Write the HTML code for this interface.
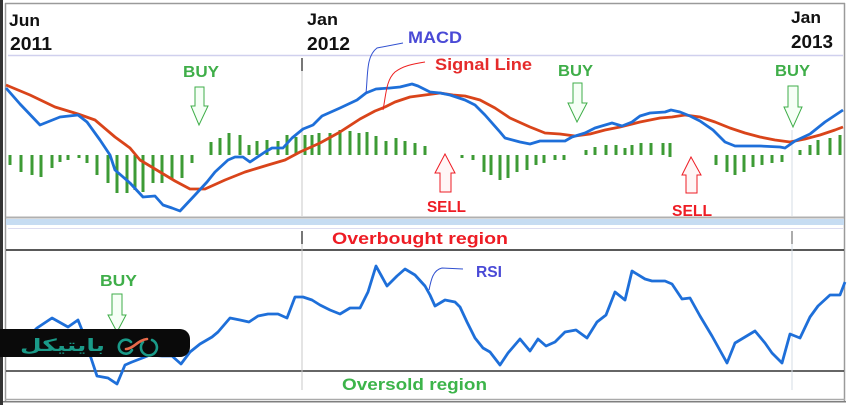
<!DOCTYPE html>
<html><head><meta charset="utf-8"><style>
html,body{margin:0;padding:0;background:#fff;}
svg{display:block;}
text{font-family:"Liberation Sans",sans-serif;font-weight:bold;}
</style></head><body>
<svg width="850" height="405" viewBox="0 0 850 405" xmlns="http://www.w3.org/2000/svg">
<rect width="850" height="405" fill="#fff"/>
<!-- frame -->
<rect x="0" y="0" width="3" height="405" fill="#333"/>
<line x1="5.5" y1="3" x2="5.5" y2="401" stroke="#9a9a9a" stroke-width="1.5"/>
<line x1="5" y1="3.5" x2="845" y2="3.5" stroke="#9a9a9a" stroke-width="1.5"/>
<line x1="844.5" y1="3" x2="844.5" y2="401" stroke="#9a9a9a" stroke-width="1.5"/>
<line x1="5" y1="399.5" x2="845" y2="399.5" stroke="#aaa" stroke-width="1.5"/>
<line x1="3" y1="401.8" x2="846" y2="401.8" stroke="#555" stroke-width="1.2"/>
<!-- top separator -->
<line x1="8" y1="55.5" x2="843" y2="55.5" stroke="#d0d0ee" stroke-width="1.5"/>
<!-- panel separator -->
<line x1="6" y1="217.5" x2="844" y2="217.5" stroke="#b0b0b0" stroke-width="2"/>
<rect x="6" y="219" width="838" height="6" fill="#c6dcf2"/>
<line x1="8" y1="228.5" x2="843" y2="228.5" stroke="#dcdcf0" stroke-width="1"/>
<line x1="6" y1="250" x2="844" y2="250" stroke="#222" stroke-width="1.6"/>
<line x1="6" y1="371" x2="844" y2="371" stroke="#333" stroke-width="1.4"/>
<!-- vertical grid -->
<line x1="302" y1="70" x2="302" y2="216" stroke="#c8c8c8" stroke-width="1"/>
<line x1="302" y1="58" x2="302" y2="71" stroke="#555" stroke-width="1.6"/>
<line x1="302" y1="243" x2="302" y2="390" stroke="#c8c8c8" stroke-width="1"/>
<line x1="302" y1="231" x2="302" y2="244" stroke="#555" stroke-width="1.6"/>
<line x1="792" y1="130" x2="792" y2="216" stroke="#d4dce4" stroke-width="1"/>
<line x1="792" y1="243" x2="792" y2="390" stroke="#d4dce4" stroke-width="1"/>
<line x1="792" y1="231" x2="792" y2="244" stroke="#888" stroke-width="1.4"/>
<!-- date labels -->
<text x="9" y="26" font-size="17" fill="#111" textLength="31" lengthAdjust="spacingAndGlyphs">Jun</text>
<text x="10" y="50" font-size="18" fill="#111" textLength="42" lengthAdjust="spacingAndGlyphs">2011</text>
<text x="307" y="25" font-size="17" fill="#111" textLength="31" lengthAdjust="spacingAndGlyphs">Jan</text>
<text x="307" y="50" font-size="18" fill="#111" textLength="43" lengthAdjust="spacingAndGlyphs">2012</text>
<text x="791" y="23" font-size="17" fill="#111" textLength="30" lengthAdjust="spacingAndGlyphs">Jan</text>
<text x="791" y="48" font-size="18" fill="#111" textLength="42" lengthAdjust="spacingAndGlyphs">2013</text>
<!-- histogram -->
<g fill="#3d9b35">
<rect x="8.5" y="155" width="3" height="10"/><rect x="19.5" y="155" width="3" height="17"/><rect x="30.5" y="155" width="3" height="20"/><rect x="39.5" y="155" width="3" height="22"/><rect x="50.5" y="155" width="3" height="13"/><rect x="58.5" y="155" width="3" height="7"/><rect x="66.5" y="155" width="3" height="5"/><rect x="77.5" y="155" width="3" height="3"/><rect x="85.5" y="155" width="3" height="8"/><rect x="95.5" y="155" width="3" height="20"/><rect x="106.5" y="155" width="3" height="28"/><rect x="115.5" y="155" width="3" height="38"/><rect x="125.5" y="155" width="3" height="38"/><rect x="133.5" y="155" width="3" height="35"/><rect x="141.5" y="155" width="3" height="37"/><rect x="151.5" y="155" width="3" height="28"/><rect x="160.5" y="155" width="3" height="28"/><rect x="170.5" y="155" width="3" height="25"/><rect x="180.5" y="155" width="3" height="23"/><rect x="190.5" y="155" width="3" height="8"/>
<rect x="209.5" y="142" width="3" height="13"/><rect x="218.5" y="138" width="3" height="17"/><rect x="227.5" y="133" width="3" height="22"/><rect x="238.5" y="135" width="3" height="20"/><rect x="247.5" y="145" width="3" height="10"/><rect x="255.5" y="141" width="3" height="14"/><rect x="265.5" y="140" width="3" height="15"/><rect x="276.5" y="141" width="3" height="14"/><rect x="285.5" y="135" width="3" height="20"/><rect x="294.5" y="137" width="3" height="18"/><rect x="303.5" y="135" width="3" height="20"/><rect x="310.5" y="135" width="3" height="20"/><rect x="317.5" y="133" width="3" height="22"/><rect x="328.5" y="133" width="3" height="22"/><rect x="338.5" y="130" width="3" height="25"/><rect x="348.5" y="131" width="3" height="24"/><rect x="357.5" y="133" width="3" height="22"/><rect x="365.5" y="132" width="3" height="23"/><rect x="374.5" y="136" width="3" height="19"/><rect x="384.5" y="141" width="3" height="14"/><rect x="394.5" y="138" width="3" height="17"/><rect x="403.5" y="141" width="3" height="14"/><rect x="413.5" y="143" width="3" height="12"/><rect x="423.5" y="146" width="3" height="9"/>
<rect x="460.5" y="155" width="3" height="3"/><rect x="471.5" y="155" width="3" height="5"/><rect x="482.5" y="155" width="3" height="17"/><rect x="489.5" y="155" width="3" height="20"/><rect x="498.5" y="155" width="3" height="25"/><rect x="506.5" y="155" width="3" height="23"/><rect x="515.5" y="155" width="3" height="17"/><rect x="525.5" y="155" width="3" height="15"/><rect x="534.5" y="155" width="3" height="10"/><rect x="542.5" y="155" width="3" height="8"/><rect x="553.5" y="155" width="3" height="5"/><rect x="562.5" y="155" width="3" height="5"/>
<rect x="584.5" y="150" width="3" height="5"/><rect x="593.5" y="147" width="3" height="8"/><rect x="604.5" y="145" width="3" height="10"/><rect x="614.5" y="145" width="3" height="10"/><rect x="623.5" y="148" width="3" height="7"/><rect x="630.5" y="145" width="3" height="10"/><rect x="639.5" y="143" width="3" height="12"/><rect x="649.5" y="143" width="3" height="12"/><rect x="661.5" y="143" width="3" height="12"/><rect x="668.5" y="143" width="3" height="14"/>
<rect x="714.5" y="155" width="3" height="10"/><rect x="725.5" y="155" width="3" height="17"/><rect x="733.5" y="155" width="3" height="20"/><rect x="742.5" y="155" width="3" height="17"/><rect x="751.5" y="155" width="3" height="12"/><rect x="760.5" y="155" width="3" height="10"/><rect x="770.5" y="155" width="3" height="8"/><rect x="780.5" y="155" width="3" height="7"/>
<rect x="798.5" y="150" width="3" height="5"/><rect x="808.5" y="145" width="3" height="10"/><rect x="816.5" y="140" width="3" height="15"/><rect x="828.5" y="138" width="3" height="17"/><rect x="838.5" y="135" width="3" height="20"/>
</g>
<!-- signal line -->
<polyline fill="none" stroke="#d9441a" stroke-width="2.8" stroke-linejoin="round" points="6,85 30,95 55,107 78,114 95,120 115,137 130,148 140,160 160,172 175,181 190,189 205,189 225,180 245,172 268,165 285,160 300,152 320,143 340,132 360,119 375,111 385,107 395,102 410,97 425,95 440,93 453,95 465,96 480,100 495,108 510,118 530,127 545,133 560,134 575,136 590,134 605,130 620,127 640,122 660,118 672,117 685,115 700,117 715,122 730,128 745,133 760,137 775,140 790,142 805,139 820,135 835,130 843,127"/>
<!-- MACD line -->
<polyline fill="none" stroke="#1e6fd9" stroke-width="2.8" stroke-linejoin="round" points="6,88 20,104 40,125 60,117 78,115 87,122 100,140 110,155 115,170 130,183 143,197 155,196 163,205 172,208 180,211 195,195 207,182 215,172 228,160 235,157 243,157 250,162 265,152 272,148 283,148 292,138 303,129 313,125 322,116 340,108 357,100 366,93 376,89 390,88 400,87 412,84 418,86 430,92 440,93 450,95 465,100 475,105 485,115 500,132 505,138 520,142 530,144 540,141 565,141 572,137 585,133 595,128 612,123 622,126 632,122 640,116 650,113 665,112 671,110 680,112 690,116 700,121 713,130 725,142 735,146 760,146 780,147 785,148 795,141 810,134 825,122 843,110"/>
<!-- leader lines -->
<path d="M366,93 C368,75 366,56 377,48 L403,43" fill="none" stroke="#3050d0" stroke-width="1"/>
<path d="M383,110 C386,95 386,80 395,72 C403,66 412,64 425,62" fill="none" stroke="#ee2020" stroke-width="1"/>
<text x="408" y="43" font-size="17" fill="#4a4ad6" textLength="54" lengthAdjust="spacingAndGlyphs">MACD</text>
<text x="435" y="70" font-size="17" fill="#e52b2b" textLength="97" lengthAdjust="spacingAndGlyphs">Signal Line</text>
<!-- BUY/SELL annotations -->
<g font-size="16" fill="#3fae49">
<text x="183" y="77" textLength="36" lengthAdjust="spacingAndGlyphs">BUY</text>
<text x="558" y="76" textLength="35" lengthAdjust="spacingAndGlyphs">BUY</text>
<text x="775" y="76" textLength="35" lengthAdjust="spacingAndGlyphs">BUY</text>
<text x="100" y="286" textLength="37" lengthAdjust="spacingAndGlyphs">BUY</text>
</g>
<g font-size="16" fill="#ee1c24">
<text x="427" y="212" textLength="39" lengthAdjust="spacingAndGlyphs">SELL</text>
<text x="672" y="216" textLength="40" lengthAdjust="spacingAndGlyphs">SELL</text>
</g>
<g fill="#f6fff6" stroke="#3fae49" stroke-width="1">
<polygon points="195,87 204,87 204,106 208,106 199,125 191,106 195,106"/>
<polygon points="573,83 582,83 582,103 587,103 577,122 568,103 573,103"/>
<polygon points="788,86 798,86 798,107 802,107 793,127 784,107 788,107"/>
<polygon points="112,294 122,294 122,315 126,315 117,332 108,315 112,315"/>
</g>
<g fill="#fff6f6" stroke="#ee1c24" stroke-width="1">
<polygon points="445,154 455,173 451,173 451,192 440,192 440,173 435,173"/>
<polygon points="691,157 701,175 697,175 697,193 686,193 686,175 682,175"/>
</g>
<!-- region labels -->
<text x="332" y="244" font-size="17" fill="#ee1c24" textLength="176" lengthAdjust="spacingAndGlyphs">Overbought region</text>
<text x="342" y="390" font-size="17" fill="#3cb44a" textLength="145" lengthAdjust="spacingAndGlyphs">Oversold region</text>
<!-- RSI -->
<polyline fill="none" stroke="#1e6fd9" stroke-width="2.8" stroke-linejoin="round" points="20,345 37,328 52,318 68,327 78,320 82,330 90,355 97,376 108,378 117,384 125,365 132,362 145,357 150,355 162,356 172,356 181,364 190,352 200,344 212,337 218,332 230,318 240,320 249,322 258,316 268,314 278,314 287,318 295,297 303,297 312,300 320,305 330,310 340,314 350,308 360,308 368,292 376,266 387,286 397,276 405,269 415,275 425,286 430,295 435,306 445,300 455,302 460,307 467,322 475,338 483,348 490,352 500,365 508,353 520,339 530,351 538,339 546,346 555,342 565,332 576,330 587,338 597,322 606,315 615,292 625,300 632,271 645,279 652,281 665,281 672,284 682,299 690,298 700,316 712,336 727,363 735,343 745,337 755,331 765,343 772,353 782,363 790,334 800,338 810,317 818,306 830,295 840,295 845,282"/>
<path d="M429,290 C431,280 433,270 442,268 L463,269" fill="none" stroke="#3050d0" stroke-width="1"/>
<text x="476" y="277" font-size="16" fill="#4a4ad6" textLength="26" lengthAdjust="spacingAndGlyphs">RSI</text>
<!-- watermark pill -->
<path d="M0,329 H180 A10,10 0 0 1 190,339 V347 A10,10 0 0 1 180,357 H0 Z" fill="#0a0a0a"/>
<text x="105" y="351" font-size="17" fill="#1a9a88" text-anchor="end" style='font-family:"DejaVu Sans",sans-serif;font-weight:bold' textLength="85" lengthAdjust="spacingAndGlyphs">بایتیکل</text>
<g fill="none" stroke-width="2.6" stroke-linecap="round">
<path d="M131,342 A7,7 0 1 0 132,350" stroke="#1a9a88"/>
<path d="M143,342 A8,8 0 1 0 152,340" stroke="#1a9a88"/>
<path d="M126,349 C133,349 138,340 147,339" stroke="#e86a4a"/>
</g>
</svg>
</body></html>
